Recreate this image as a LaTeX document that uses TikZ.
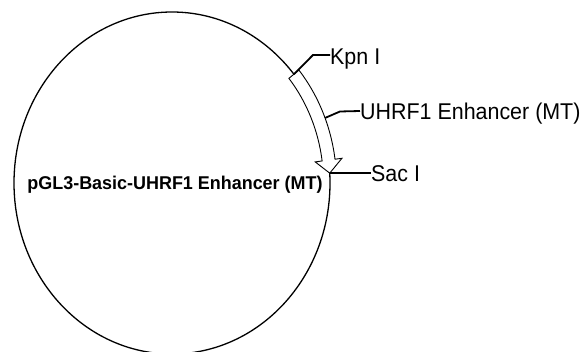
\documentclass[tikz,border=0pt]{standalone}
\usepackage{fontspec}
\setmainfont{Liberation Sans}
\newfontfamily\lblfont[FakeStretch=0.94]{Liberation Sans}
\newfontfamily\namefont[FakeStretch=0.97]{Liberation Sans}
\usetikzlibrary{calc,shapes.geometric}
\begin{document}
\begin{tikzpicture}[x=1pt,y=1pt,
  lbl/.style={anchor=base west,inner sep=0pt,font=\lblfont\fontsize{22.8}{25}\selectfont},
  tick/.style={line width=1.8pt},
  backbone/.style={line width=1.3pt},
  feat/.style={line width=0.9pt,fill=white,line join=miter}]
\useasboundingbox (0,0) rectangle (584,351);
\coordinate (C) at (172,168);
% plasmid backbone
\node[draw,backbone,ellipse,minimum width=316pt,minimum height=342pt,inner sep=0pt] (plasmid) at (C) {};
\node[anchor=base,inner sep=0pt,font=\namefont\fontsize{18.5}{20}\selectfont\bfseries] (name) at (175,161.4) {pGL3-Basic-UHRF1 Enhancer (MT)};
% feature arrow
\draw[feat] ($(C)+(39.5:164.5 and 177.5)$)
  arc[start angle=39.5,end angle=7.7,x radius=164.5,y radius=177.5]
  -- ($(C)+(7.7:171.5 and 184.5)$)
  -- ($(C)+(3.3:158 and 171)$) coordinate (tip)
  -- ($(C)+(7.7:144.5 and 157.5)$)
  -- ($(C)+(7.7:151.5 and 164.5)$)
  arc[start angle=7.7,end angle=39.5,x radius=151.5,y radius=164.5]
  -- cycle;
\coordinate (kpnpt) at ($(C)+(39.5:158 and 171)$);
\coordinate (featpt) at ($(C)+(21.5:164.5 and 177.5)$);
% labels
\node[lbl] (kpn) at (330,286.8) {Kpn I};
\node[lbl] (feat) at (360,231.8) {UHRF1 Enhancer (MT)};
\node[lbl] (sac) at (371,169.8) {Sac I};
% ticks
\draw[tick] (kpnpt) -- (313,296) -- (kpn.west|-313,296);
\draw[tick] (featpt) -- (340,239.5) -- (feat.west|-340,240);
\draw[tick] (tip) -- (sac.west|-tip);
\end{tikzpicture}
\end{document}
